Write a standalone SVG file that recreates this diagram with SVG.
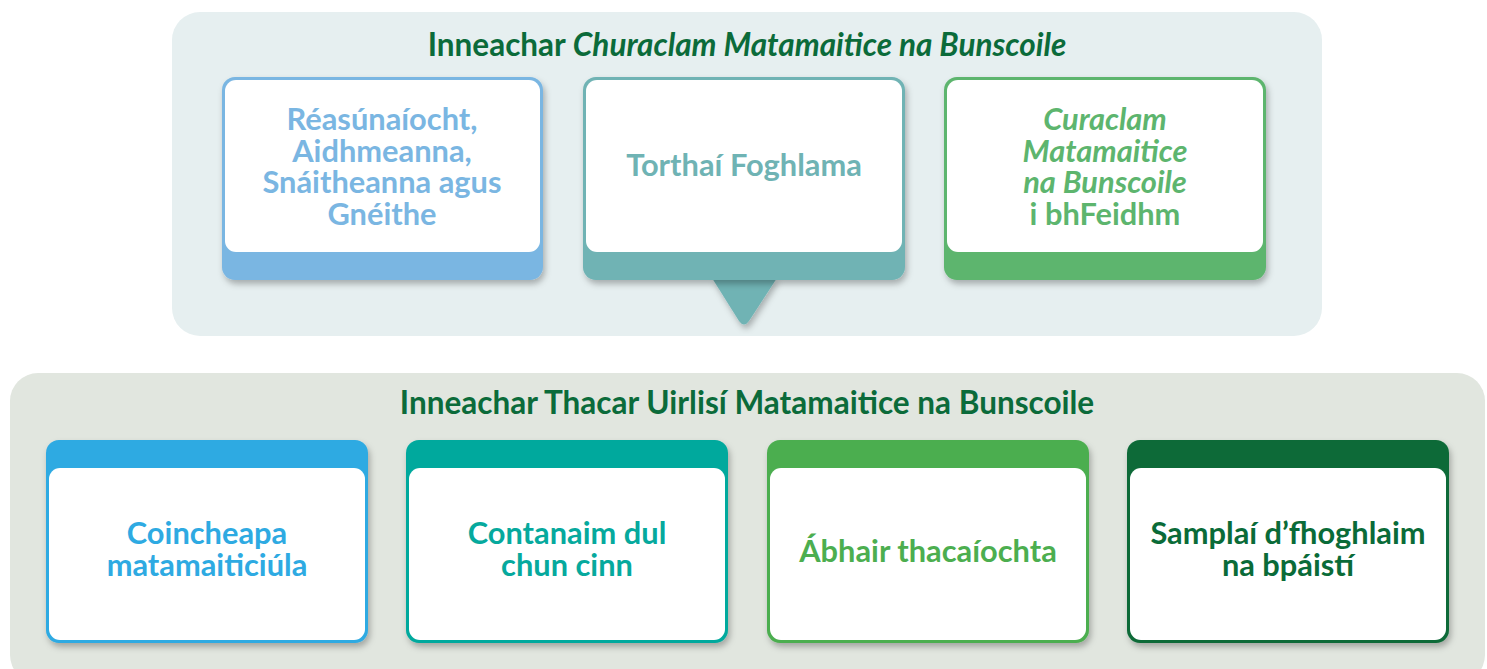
<svg xmlns="http://www.w3.org/2000/svg" width="1487" height="669" viewBox="0 0 1487 669">
<defs>
<filter id="sh" x="-10%" y="-10%" width="125%" height="130%">
<feDropShadow dx="2" dy="4" stdDeviation="3" flood-color="#000" flood-opacity="0.28"/>
</filter>
<style>
text{font-family:Lato,"Open Sans","Liberation Sans",sans-serif;font-weight:700;text-anchor:middle}
.title{font-size:31.5px;fill:#0b6b3a}
.t{font-size:30.8px}
.i{font-style:italic}
</style>
</defs>
<rect width="1487" height="669" fill="#ffffff"/>
<g id="panel-top">
<rect x="172" y="12" width="1150" height="324" rx="28" fill="#e6eff0"/>
<text class="title" x="747" y="56">Inneachar <tspan class="i">Churaclam Matamaitice na Bunscoile</tspan></text>
</g>
<g id="panel-bottom">
<rect x="10" y="373" width="1475" height="310" rx="28" fill="#e1e6df"/>
<text class="title" x="747" y="414">Inneachar Thacar Uirlisí Matamaitice na Bunscoile</text>
</g>
<g id="connectors">
<path d="M712 278 L777 278 L749 321 Q744 328 739 321 Z" fill="#6fb3b4" filter="url(#sh)"/>
</g>
<g id="node-reasunaiocht">
<rect x="222" y="77" width="321" height="203" rx="13" fill="#7ab6e2" filter="url(#sh)"/>
<rect x="225" y="80" width="315" height="172" rx="11" fill="#ffffff"/>
<text class="t" fill="#7ab6e2"><tspan x="382" y="130">Réasúnaíocht,</tspan><tspan x="382" y="162">Aidhmeanna,</tspan><tspan x="382" y="193">Snáitheanna agus</tspan><tspan x="382" y="225">Gnéithe</tspan></text>
</g>
<g id="node-torthai">
<rect x="583" y="77" width="322" height="203" rx="13" fill="#6fb3b4" filter="url(#sh)"/>
<rect x="586" y="80" width="316" height="172" rx="11" fill="#ffffff"/>
<text class="t" fill="#6fb3b4" x="744" y="176">Torthaí Foghlama</text>
</g>
<g id="node-curaclam">
<rect x="944" y="77" width="322" height="203" rx="13" fill="#5db56e" filter="url(#sh)"/>
<rect x="947" y="80" width="316" height="172" rx="11" fill="#ffffff"/>
<text class="t" fill="#5db56e"><tspan class="i" x="1105" y="130">Curaclam</tspan><tspan class="i" x="1105" y="162">Matamaitice</tspan><tspan class="i" x="1105" y="193">na Bunscoile</tspan><tspan x="1105" y="225">i bhFeidhm</tspan></text>
</g>
<g id="node-coincheapa">
<rect x="46" y="440" width="322" height="203" rx="13" fill="#2eaae2" filter="url(#sh)"/>
<rect x="49" y="468" width="316" height="172" rx="11" fill="#ffffff"/>
<text class="t" fill="#2eaae2"><tspan x="207" y="544">Coincheapa</tspan><tspan x="207" y="576">matamaiticiúla</tspan></text>
</g>
<g id="node-contanaim">
<rect x="406" y="440" width="322" height="203" rx="13" fill="#06a99d" filter="url(#sh)"/>
<rect x="409" y="468" width="316" height="172" rx="11" fill="#ffffff"/>
<text class="t" fill="#06a99d"><tspan x="567" y="544">Contanaim dul</tspan><tspan x="567" y="576">chun cinn</tspan></text>
</g>
<g id="node-abhair">
<rect x="767" y="440" width="322" height="203" rx="13" fill="#4cae4f" filter="url(#sh)"/>
<rect x="770" y="468" width="316" height="172" rx="11" fill="#ffffff"/>
<text class="t" fill="#4cae4f" x="928" y="562">Ábhair thacaíochta</text>
</g>
<g id="node-samplai">
<rect x="1127" y="440" width="322" height="203" rx="13" fill="#0a6b38" filter="url(#sh)"/>
<rect x="1130" y="468" width="316" height="172" rx="11" fill="#ffffff"/>
<text class="t" fill="#0a6b38"><tspan x="1288" y="544">Samplaí d’fhoghlaim</tspan><tspan x="1288" y="576">na bpáistí</tspan></text>
</g>
</svg>
